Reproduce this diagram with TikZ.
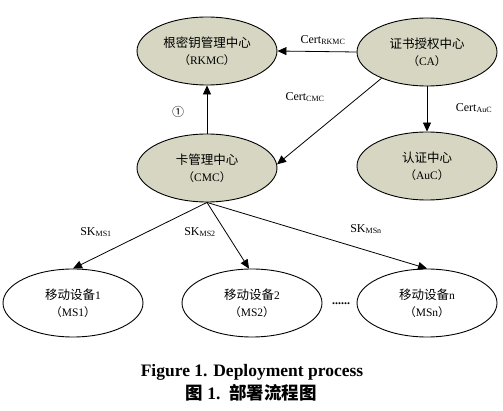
\documentclass[tikz,border=0pt]{standalone}
\usepackage{fontspec}
\setmainfont{Liberation Serif}
\newfontfamily\cjk{Noto Sans CJK SC}
\usetikzlibrary{shapes.geometric,arrows.meta}
\definecolor{nodefill}{RGB}{214,214,194}
\newcommand{\zh}[1]{{\cjk #1}}
\begin{document}
\begin{tikzpicture}[x=1pt,y=-1pt,
  ell/.style={ellipse,draw=black,line width=0.9pt,minimum width=140pt,minimum height=68pt,inner sep=0pt,align=center,font=\fontsize{11.5}{17}\selectfont},
  filled/.style={ell,fill=nodefill},
  plain/.style={ell,fill=white},
  conn/.style={draw=black,line width=0.8pt,-{Triangle[length=9pt,width=8pt]}},
  lbl/.style={font=\fontsize{12}{14}\selectfont,inner sep=0pt}]
\useasboundingbox (0,0) rectangle (503,411);
\node[filled] (RKMC) at (207,51) {\zh{\fontsize{12.5}{17}\selectfont 根密钥管理中心}\\\zh{（}RKMC\zh{）}};
\node[filled] (CA) at (427,52) {\zh{\fontsize{12.5}{17}\selectfont 证书授权中心}\\\zh{（}CA\zh{）}};
\node[filled] (CMC) at (207,168) {\zh{\fontsize{12.5}{17}\selectfont 卡管理中心}\\\zh{（}CMC\zh{）}};
\node[filled] (AuC) at (427,166) {\zh{\fontsize{12.5}{17}\selectfont 认证中心}\\\zh{（}AuC\zh{）}};
\node[plain] (MS1) at (73,303) {\zh{\fontsize{12.5}{17}\selectfont 移动设备}1\\\zh{（}MS1\zh{）}};
\node[plain] (MS2) at (252,303) {\zh{\fontsize{12.5}{17}\selectfont 移动设备}2\\\zh{（}MS2\zh{）}};
\node[plain] (MSn) at (427,303) {\zh{\fontsize{12.5}{17}\selectfont 移动设备}n\\\zh{（}MSn\zh{）}};
\draw[conn] (CA.west) -- (RKMC.east);
\draw[conn] (CMC.north) -- (RKMC.south);
\draw[conn] (CA.south) -- (AuC.north);
\draw[conn] (CA.210) -- (CMC.3);
\draw[conn] (CMC.south) -- (MS1.north);
\draw[conn] (CMC.south) -- (MS2.95);
\draw[conn] (CMC.south) -- (MSn.north);
\node[lbl] (l1) at (323,40) {Cert\textsubscript{RKMC}};
\node[lbl] (l2) at (305,97) {Cert\textsubscript{CMC}};
\node[lbl] (l3) at (474,108) {Cert\textsubscript{AuC}};
\node[lbl,font=\cjk\fontsize{12}{14}\selectfont] (l4) at (178,112) {①};
\node[lbl] (l5) at (96,232) {SK\textsubscript{MS1}};
\node[lbl] (l6) at (200,232) {SK\textsubscript{MS2}};
\node[lbl] (l7) at (366,229) {SK\textsubscript{MSn}};
\node[lbl] (dots) at (341,304) {\textbf{......}};
\node[font=\bfseries\fontsize{17.5}{19}\selectfont,inner sep=0pt] (cap1) at (252,372) {Figure 1. Deployment process};
\node[font=\bfseries\fontsize{17.5}{19}\selectfont,inner sep=0pt] (cap2) at (251,393) {\zh{图} 1.\ \ \zh{部署流程图}};
\end{tikzpicture}
\end{document}
